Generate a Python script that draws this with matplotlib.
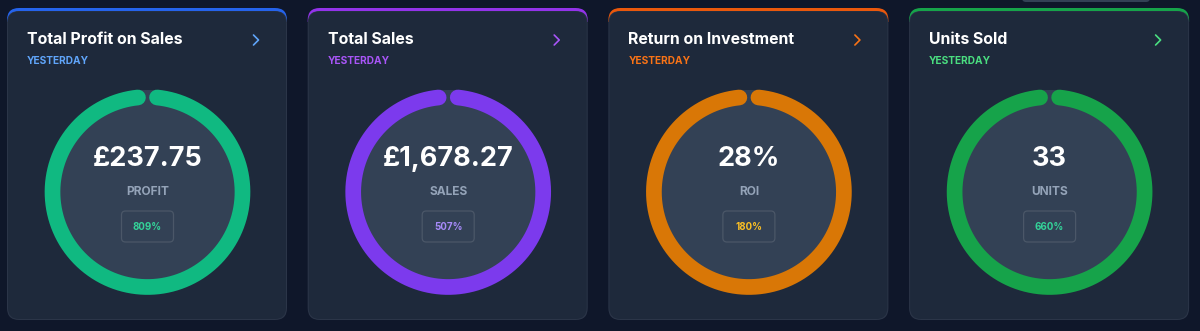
import numpy as np
import matplotlib
matplotlib.use("Agg")
import matplotlib.pyplot as plt
from matplotlib.patches import FancyBboxPatch, Circle, Rectangle

# ---- data ----
titles = ["Total Profit on Sales", "Total Sales", "Return on Investment", "Units Sold"]
periods = ["YESTERDAY", "YESTERDAY", "YESTERDAY", "YESTERDAY"]
values = ["£237.75", "£1,678.27", "28%", "33"]
labels = ["PROFIT", "SALES", "ROI", "UNITS"]
changes = ["809%", "507%", "180%", "660%"]
progress = [0.968, 0.968, 0.968, 0.968]

accent_top = ["#2563eb", "#9333ea", "#ea580c", "#16a34a"]
accent_sub = ["#60a5fa", "#a855f7", "#f97316", "#4ade80"]
ring_cols = ["#10b981", "#7c3aed", "#d97706", "#16a34a"]
badge_txt = ["#34d399", "#a78bfa", "#fbbf24", "#34d399"]

BG = "#0f172a"
CARD = "#1e293b"
DISC = "#334155"

plt.rcParams['font.family'] = ['Inter', 'DejaVu Sans']

W, H = 1200, 331
fig = plt.figure(figsize=(W / 100, H / 100), dpi=100)
fig.patch.set_facecolor(BG)
ax = fig.add_axes([0, 0, 1, 1])
ax.set_xlim(0, W)
ax.set_ylim(H, 0)
ax.axis("off")
ax.set_facecolor(BG)

# faint element at top right
ax.add_patch(FancyBboxPatch((1022, -10), 128, 12, boxstyle="round,pad=0,rounding_size=4",
                            fc="#334155", ec="none", zorder=1))

card_w, card_h = 280, 312
y0 = 8
for i in range(4):
    x0 = 7 + i * 300.7
    # accent top (full card shape, colored, clipped to top strip)
    acc = FancyBboxPatch((x0, y0), card_w, card_h,
                         boxstyle="round,pad=0,rounding_size=12",
                         fc=accent_top[i], ec="none", zorder=2)
    ax.add_patch(acc)
    clip = Rectangle((x0 - 2, y0 - 2), card_w + 4, 16, transform=ax.transData)
    acc.set_clip_path(clip)
    # border
    ax.add_patch(FancyBboxPatch((x0, y0 + 3), card_w, card_h - 3,
                                boxstyle="round,pad=0,rounding_size=12",
                                fc="#2b3548", ec="none", zorder=3))
    ax.add_patch(FancyBboxPatch((x0 + 1, y0 + 3.5), card_w - 2, card_h - 4.5,
                                boxstyle="round,pad=0,rounding_size=11",
                                fc=CARD, ec="none", zorder=4))

    # title & subtitle
    ax.text(x0 + 20, 40, titles[i], color="white", fontsize=11.4, fontweight="bold",
            ha="left", va="center", zorder=6)
    ax.text(x0 + 20, 61.5, periods[i], color=accent_sub[i], fontsize=7.3, fontweight="bold",
            ha="left", va="center", zorder=6)
    # chevron
    cx0, cy0 = x0 + 249, 40
    ax.plot([cx0 - 2.5, cx0 + 2.5, cx0 - 2.5], [cy0 - 5, cy0, cy0 + 5],
            color=accent_sub[i], lw=1.2, solid_capstyle="round", solid_joinstyle="round", zorder=6)

    # ring
    cx, cy = x0 + 140.5, 192
    ax.add_patch(Circle((cx, cy), 102, fc=DISC, ec="none", zorder=5))
    r = 95
    d = np.pi * (1 - progress[i])
    t = np.linspace(d, 2 * np.pi - d, 400)
    ax.plot(cx + r * np.sin(t), cy - r * np.cos(t), color=ring_cols[i], lw=11.3,
            solid_capstyle="round", zorder=6)

    # texts
    ax.text(cx, 159, values[i], color="white", fontsize=19.5, fontweight="bold",
            ha="center", va="center", zorder=7)
    ax.text(cx, 192, labels[i], color="#94a3b8", fontsize=8.6, fontweight="bold",
            ha="center", va="center", zorder=7)
    ax.add_patch(FancyBboxPatch((cx - 26, 211), 52, 31,
                                boxstyle="round,pad=0,rounding_size=4",
                                fc="none", ec="#4b5768", lw=0.9, zorder=7))
    ax.text(cx, 227, changes[i], color=badge_txt[i], fontsize=7.0, fontweight="bold",
            ha="center", va="center", zorder=8)

fig.savefig("out.png", dpi=100, facecolor=BG)
